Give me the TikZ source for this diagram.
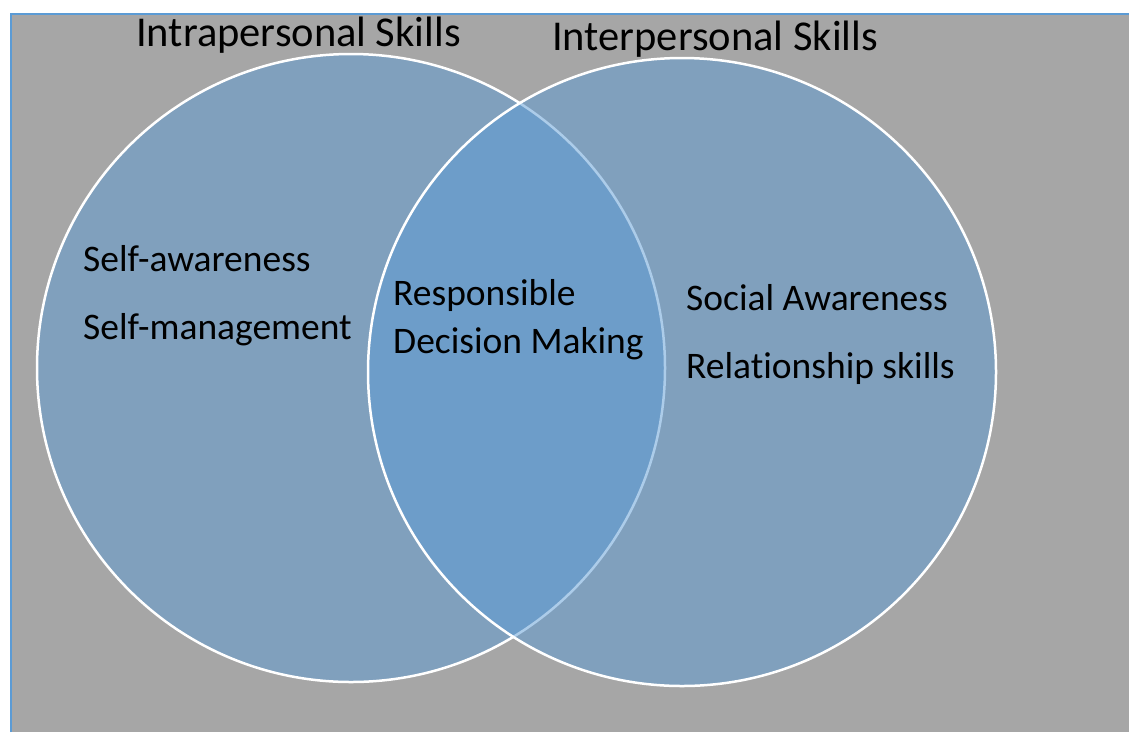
\documentclass[tikz,border=0pt]{standalone}
\usepackage{fontspec}
\setmainfont[Ligatures=CommonOff]{Carlito}
\usepackage{tikz}
\usetikzlibrary{positioning}
\definecolor{panelgray}{HTML}{A6A6A6}
\definecolor{setblue}{HTML}{5B9BD5}
\newcommand{\headfont}{\fontsize{42.5}{48}\selectfont}
\newcommand{\itemfont}{\fontsize{37.5}{48}\selectfont}

\begin{document}
\begin{tikzpicture}[x=1pt,y=-1pt,
    venn/.style={circle, draw=white, line width=2.5pt, fill=setblue,
      fill opacity=0.5, minimum size=628pt, inner sep=0pt},
    head/.style={anchor=base west, inner sep=0pt, font=\headfont},
    skill/.style={anchor=base west, inner sep=0pt, font=\itemfont}]
  \useasboundingbox (0,0) rectangle (1129,732);
  % panel behind the sets
  \fill[panelgray] (11,14) rectangle (1129,732);
  \draw[setblue, line width=2.5pt] (11,732) -- (11,14) -- (1129,14);

  % the two sets, left one first
  \node[venn] (intra) at (351,368) {};
  \node[venn] (inter) at (682,372) {};

  \node[head] (intratitle) at (136,46) {Intrapersonal Skills};
  \node[head] (intertitle) at (552,50) {Interpersonal Skills};

  \node[skill] (selfaware) at (83,271) {Self-awareness};
  \node[skill] (selfmanage) at (83,339) {Self-management};
  \node[skill] (respons) at (393,305) {Responsible};
  \node[skill] (decision) at (393,353) {Decision Making};
  \node[skill] (social) at (686,310) {Social Awareness};
  \node[skill] (relation) at (686,378) {Relationship skills};
\end{tikzpicture}
\end{document}
